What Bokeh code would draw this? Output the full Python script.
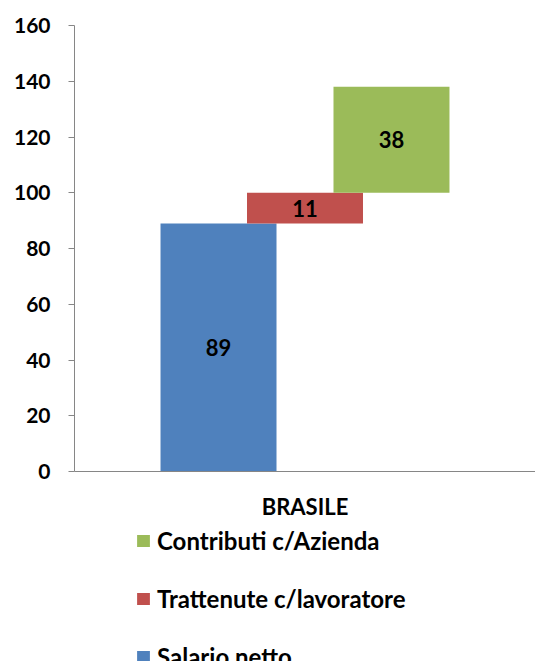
from bokeh.plotting import figure
from bokeh.layouts import column
from bokeh.models import (ColumnDataSource, FactorRange, Range1d, Legend, LegendItem,
                          FixedTicker)
from bokeh.transform import dodge
from bokeh.core.properties import value
from bokeh.embed import file_html
from bokeh.resources import INLINE

# ---- data ----
country = "BRASILE"
series = ["Salario netto", "Trattenute c/lavoratore", "Contributi c/Azienda"]
values = [89, 11, 38]
colors = ["#4F81BD", "#C0504D", "#9BBB59"]
y_ticks = [0, 20, 40, 60, 80, 100, 120, 140, 160]

FONT = "Lato"

p = figure(x_range=FactorRange(country), y_range=Range1d(0, 160),
           width=535, height=522, output_backend="svg", toolbar_location=None,
           min_border_left=74, min_border_right=0, min_border_top=25, min_border_bottom=50)
p.outline_line_color = None
p.xgrid.grid_line_color = None
p.ygrid.grid_line_color = None

bar_w = 0.2516
offsets = [-0.1876, 0.0, 0.1876]

sources = []
bottom = 0
for name, v, c, off in zip(series, values, colors, offsets):
    src = ColumnDataSource(dict(x=[country], top=[bottom + v], bottom=[bottom],
                                mid=[bottom + v / 2], lab=[str(v)]))
    sources.append(src)
    p.vbar(x=dodge("x", off, range=p.x_range), top="top", bottom="bottom",
           width=bar_w, fill_color=c, line_color=None, source=src)
    p.text(x=dodge("x", off, range=p.x_range), y="mid", text="lab", source=src,
           text_align="center", text_baseline="middle", text_font=value(FONT),
           text_font_style="bold", text_font_size="22px", text_color="black")
    bottom += v

# y axis
p.yaxis.ticker = FixedTicker(ticks=y_ticks)
p.yaxis.axis_line_color = "#868686"
p.yaxis.major_tick_line_color = "#868686"
p.yaxis.major_tick_out = 6
p.yaxis.major_tick_in = 0
p.yaxis.minor_tick_line_color = None
p.yaxis.major_label_standoff = 18
p.yaxis.major_label_text_font = FONT
p.yaxis.major_label_text_font_style = "bold"
p.yaxis.major_label_text_font_size = "21px"
p.yaxis.major_label_text_color = "black"

# x axis
p.xaxis.axis_line_color = "#868686"
p.xaxis.major_tick_line_color = None
p.xaxis.minor_tick_line_color = None
p.xaxis.major_label_standoff = 15
p.xaxis.major_label_text_font = FONT
p.xaxis.major_label_text_font_style = "bold"
p.xaxis.major_label_text_font_size = "22px"
p.xaxis.major_label_text_color = "black"

# ---- legend panel (separate figure so the legend is not clipped) ----
q = figure(width=535, height=139, output_backend="svg", toolbar_location=None,
           x_range=FactorRange(country), y_range=Range1d(0, 160),
           x_axis_type=None, y_axis_type=None,
           min_border_left=0, min_border_right=0, min_border_top=0, min_border_bottom=0)
q.grid.visible = False
q.outline_line_color = None

legend_renderers = []
for name, c, src in zip(series, colors, sources):
    r = q.vbar(x="x", top="top", bottom="bottom", width=0.25,
               fill_color=c, line_color=None, source=src)
    r.visible = False
    legend_renderers.append((name, r))

items = [LegendItem(label=n, renderers=[r]) for n, r in reversed(legend_renderers)]
legend = Legend(items=items, location=(61, -10), orientation="vertical",
                glyph_width=16, glyph_height=15, label_height=30, spacing=28,
                label_standoff=6, padding=0, margin=0, border_line_color=None,
                background_fill_alpha=0, inactive_fill_alpha=0,
                label_text_font=FONT, label_text_font_style="bold",
                label_text_font_size="24px", label_text_color="black")
q.add_layout(legend, "center")

layout = column(p, q, spacing=0)
open("out.html", "w").write(file_html(layout, INLINE))
